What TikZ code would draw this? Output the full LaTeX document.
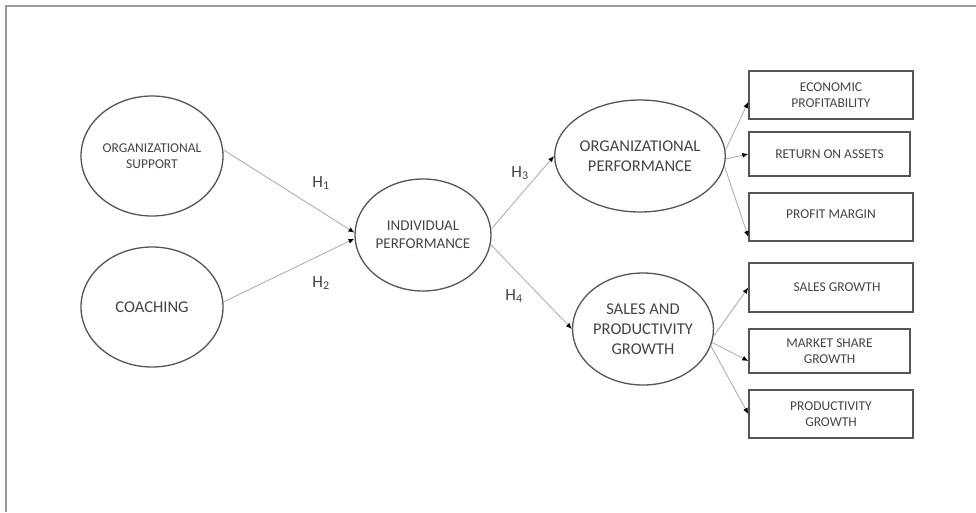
\documentclass[tikz,border=0pt]{standalone}
\usepackage{fontspec}
\setmainfont{Carlito}
\usetikzlibrary{arrows.meta,shapes.geometric}
\definecolor{txt}{HTML}{444444}
\definecolor{edge}{HTML}{555555}
\definecolor{conn}{HTML}{B0B0B0}
\definecolor{frame}{HTML}{999999}
\tikzset{
  oval/.style={ellipse, draw=edge, line width=1.3pt, inner sep=0pt, text=txt, align=center},
  boxnode/.style={rectangle, draw=edge, line width=1.4pt, inner sep=0pt, minimum width=164pt, text=txt, align=center},
  conarrow/.style={draw=conn, line width=0.9pt, -{Latex[length=6pt,width=5pt,black]}},
  hlabel/.style={text=txt, font=\fontsize{17}{17}\selectfont},
  small/.style={font=\fontsize{13.5}{16}\selectfont},
  mid/.style={font=\fontsize{15}{17.7}\selectfont},
  big/.style={font=\fontsize{16.5}{20}\selectfont}
}
\begin{document}
\begin{tikzpicture}[x=1pt,y=-1pt]
\useasboundingbox (0,0) rectangle (976,512);
\draw[frame, line width=2pt] (6,512) -- (6,6) -- (976,6);
% ellipses
\node[oval, small, minimum width=142pt, minimum height=120pt] (os) at (152,156) {ORGANIZATIONAL\\SUPPORT};
\node[oval, big, minimum width=142pt, minimum height=120pt] (co) at (152,307) {COACHING};
\node[oval, mid, minimum width=136pt, minimum height=112pt] (ip) at (423,235) {INDIVIDUAL\\PERFORMANCE};
\node[oval, big, minimum width=138pt, minimum height=112pt] (op) at (640,156) {ORGANIZATIONAL\\PERFORMANCE};
\node[oval, big, minimum width=137pt, minimum height=112pt] (sp) at (643,329) {SALES AND\\PRODUCTIVITY\\GROWTH};
% boxes
\node[boxnode, small, minimum height=48pt] (b1) at (831,95) {ECONOMIC\\PROFITABILITY};
\node[boxnode, small, minimum height=44pt, minimum width=161pt] (b2) at (829.5,154) {RETURN ON ASSETS};
\node[boxnode, small, minimum height=48pt] (b3) at (831,217) {\\[-12pt]PROFIT MARGIN};
\node[boxnode, small, minimum height=49pt] (b4) at (831,287.5) {\hspace*{12pt}SALES GROWTH};
\node[boxnode, small, minimum height=44pt, minimum width=161pt] (b5) at (829.5,351) {MARKET SHARE\\GROWTH};
\node[boxnode, small, minimum height=48pt] (b6) at (831,414) {PRODUCTIVITY\\GROWTH};
% connectors
\draw[conarrow] (os.5) -- (ip.178);
\draw[conarrow] (co.4) -- (ip.183);
\draw[conarrow] (ip.5) -- (op.180);
\draw[conarrow] (ip.352) -- (sp.180);
\draw[conarrow] (op.4) -- ([yshift=-7pt]b1.west);
\draw[conarrow] (op.358) -- (b2.west);
\draw[conarrow] (op.353) -- ([yshift=-20pt]b3.west);
\draw[conarrow] (sp.354) -- (b4.west);
\draw[conarrow] (sp.349) -- ([yshift=-10pt]b5.west);
\draw[conarrow] (sp.346) -- (b6.west);
% labels
\node[hlabel] (h1) at (321,183) {H\textsubscript{1}};
\node[hlabel] (h2) at (321,283) {H\textsubscript{2}};
\node[hlabel] (h3) at (520,173) {H\textsubscript{3}};
\node[hlabel] (h4) at (514,296) {H\textsubscript{4}};
\end{tikzpicture}
\end{document}
